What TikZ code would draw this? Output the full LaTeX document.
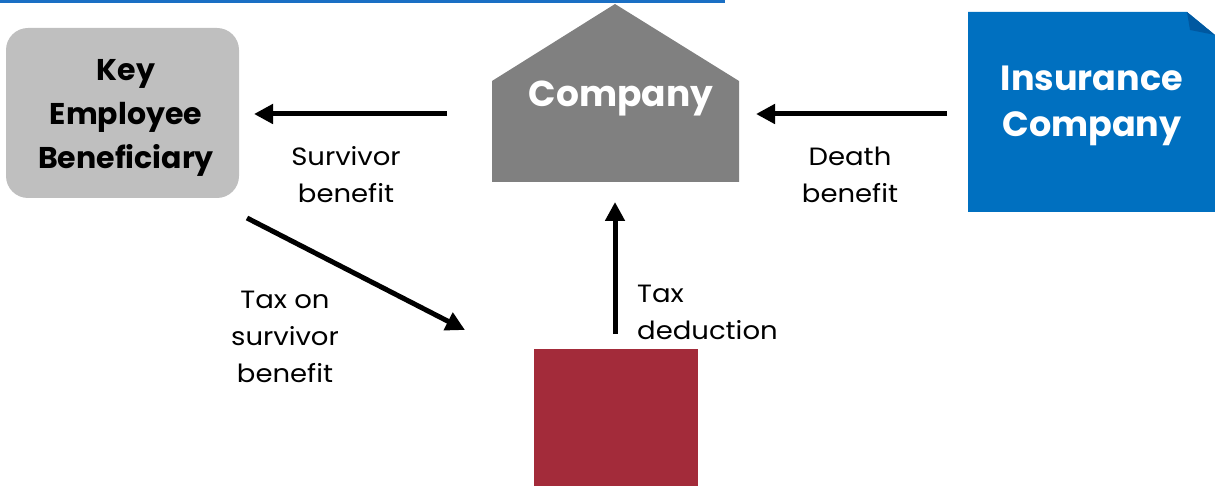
\documentclass[tikz,border=0pt]{standalone}
\usepackage{fontspec}
\setmainfont{Poppins}
\newfontfamily\lblfont{Poppins}[FakeStretch=1.1]
\usetikzlibrary{arrows.meta}
\definecolor{topblue}{HTML}{1A6FC4}
\definecolor{insblue}{HTML}{0070C0}
\definecolor{folddark}{HTML}{0058A0}
\definecolor{compgray}{HTML}{808080}
\definecolor{keygray}{HTML}{BFBFBF}
\definecolor{taxred}{HTML}{A32B3A}
\tikzset{
  flow/.style={line width=5pt, -{Triangle[length=19pt,width=19pt]}, shorten >=0pt},
  lbl/.style={font=\lblfont\fontsize{25}{37}\selectfont, align=center, inner sep=0pt, text=black},
  bigw/.style={font=\fontsize{35}{46}\selectfont\bfseries, align=center, inner sep=0pt},
}
\begin{document}
\begin{tikzpicture}[x=1pt,y=-1pt]
\useasboundingbox (0,0) rectangle (1215,486);
% top rule
\fill[topblue] (0,0) rectangle (725,3);
% company house
\fill[compgray] (492,182) -- (492,81) -- (615,4) -- (739,81) -- (739,182) -- cycle;
\node[bigw, text=white, font=\fontsize{36}{46}\selectfont\bfseries] (comp) at (621,99) {Company};
% insurance company with folded corner
\fill[insblue] (968,12) -- (1187,12) -- (1215,35) -- (1215,212) -- (968,212) -- cycle;
\fill[folddark] (1187,12) -- (1215,35) -- (1190,30) -- cycle;
\node[bigw, text=white] (ins) at (1092,106) {Insurance\\Company};
% key employee
\fill[keygray, rounded corners=22pt] (6,28) rectangle (239,198);
\node[bigw, text=black, font=\fontsize{30}{44}\selectfont\bfseries] (key) at (126,118) {Key\\Employee\\Beneficiary};
% tax box
\fill[taxred] (534,349) rectangle (698,486);
% connectors
\coordinate (a1s) at (447,114); \coordinate (a1e) at (254,114);
\coordinate (a2s) at (947,114); \coordinate (a2e) at (756,114);
\coordinate (a3s) at (615,334); \coordinate (a3e) at (615,202);
\coordinate (a4s) at (247,218); \coordinate (a4e) at (465,330);
\draw[flow] (a1s) -- (a1e);
\draw[flow] (a2s) -- (a2e);
\draw[flow] (a3s) -- (a3e);
\draw[flow] (a4s) -- (a4e);
% labels
\node[lbl] (l1) at (346,175) {Survivor\\benefit};
\node[lbl] (l2) at (850,175) {Death\\benefit};
\node[lbl] (l3) at (285,337) {Tax on\\survivor\\benefit};
\node[lbl, align=left, anchor=west] (l4) at (637,312) {Tax\\deduction};
\end{tikzpicture}
\end{document}
